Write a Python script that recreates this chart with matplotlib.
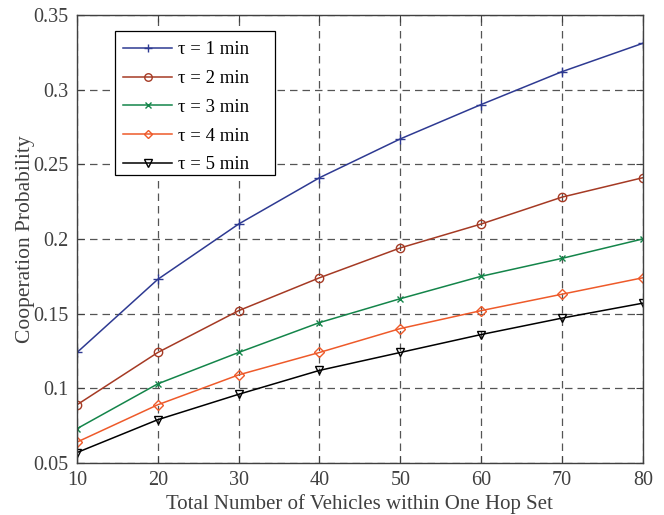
import numpy as np
import matplotlib.pyplot as plt
from matplotlib.patches import Rectangle

plt.rcParams['font.family'] = ['Liberation Serif', 'DejaVu Serif']

# Data
vehicles = [10, 20, 30, 40, 50, 60, 70, 80]
tau1 = [0.124, 0.173, 0.210, 0.241, 0.267, 0.290, 0.312, 0.331]
tau2 = [0.089, 0.124, 0.152, 0.174, 0.194, 0.210, 0.228, 0.241]
tau3 = [0.073, 0.103, 0.124, 0.144, 0.160, 0.175, 0.187, 0.200]
tau4 = [0.064, 0.089, 0.109, 0.124, 0.140, 0.152, 0.163, 0.174]
tau5 = [0.057, 0.079, 0.096, 0.112, 0.124, 0.136, 0.147, 0.157]
labels = ['τ = 1 min', 'τ = 2 min', 'τ = 3 min', 'τ = 4 min', 'τ = 5 min']

fig = plt.figure(figsize=(6.64, 5.15), dpi=100)
ax = fig.add_axes([0.116, 0.101, 0.852, 0.870])

# one style per curve
ax.plot(vehicles, tau1, color='#2e3a92', marker='+', markersize=7, lw=1.1, label=labels[0])
ax.plot(vehicles, tau2, color='#a53a24', marker='o', markersize=6, mfc='none', lw=1.1, label=labels[1])
ax.plot(vehicles, tau3, color='#14854a', marker='x', markersize=5, lw=1.1, label=labels[2])
ax.plot(vehicles, tau4, color='#ee5a2a', marker='D', markersize=5, mfc='none', lw=1.1, label=labels[3])
ax.plot(vehicles, tau5, color='black', marker='v', markersize=6, mfc='none', lw=1.1, label=labels[4])

# axis limits and ticks
ax.set_xlim(10, 80)
ax.set_ylim(0.05, 0.35)
ax.set_xticks(np.arange(10, 81, 10))
ax.set_yticks([0.05, 0.1, 0.15, 0.2, 0.25, 0.3, 0.35])
ax.set_yticklabels(['0.05', '0.1', '0.15', '0.2', '0.25', '0.3', '0.35'])
ax.tick_params(direction='in', labelsize=14.5, colors='#404040', length=5,
               top=True, right=True, pad=6)

ax.grid(True, color='#555555', linestyle=(0, (6, 4)), linewidth=0.9)
for s in ax.spines.values():
    s.set_color('#404040')
    s.set_linewidth(1.0)

ax.set_xlabel('Total Number of Vehicles within One Hop Set', fontsize=15, color='#404040', labelpad=3)
ax.set_ylabel('Cooperation Probability', fontsize=15.5, color='#404040', labelpad=-1)

# legend box is wider than its contents, like MATLAB draws it
box = Rectangle((0.067, 0.643), 0.283, 0.321, transform=ax.transAxes,
                facecolor='white', edgecolor='black', linewidth=0.9, zorder=4.5)
ax.add_patch(box)
leg = ax.legend(loc='upper left', bbox_to_anchor=(0.067, 0.96), fontsize=13.5,
                frameon=False, borderaxespad=0,
                handlelength=2.6, handletextpad=0.3, borderpad=0.45,
                labelspacing=0.62, markerscale=0.9)

plt.savefig('out.png')
